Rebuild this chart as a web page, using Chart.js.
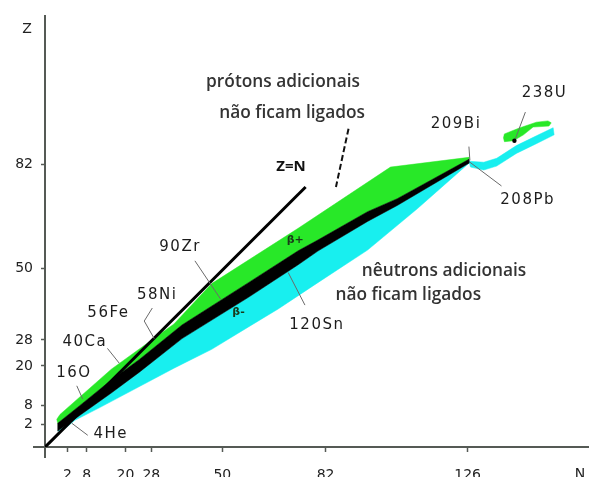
<!DOCTYPE html>
<html>
<head>
<meta charset="utf-8">
<script src="https://cdn.jsdelivr.net/npm/chart.js@4.4.1/dist/chart.umd.min.js"></script>
<style>
  html, body { margin: 0; padding: 0; background: #ffffff; }
  canvas { display: block; }
</style>
</head>
<body>
<canvas id="chart" width="592" height="477"></canvas>
<script>
// Magic numbers shown on the axes
const nTicks = [2, 8, 20, 28, 50, 82, 126];
const zTicks = [2, 8, 20, 28, 50, 82];

// Band of stable nuclei (black): upper and lower edge at each N station
const stableN       = [-1.0, 5.8, 15.6, 24.3, 37.5, 58.1, 73.5, 79.6, 95.0, 104.2, 126.4];
const stableTopZ    = [ 2.4, 7.8, 15.7, 22.0, 32.6, 45.6, 55.4, 58.7, 67.4,  71.4,  83.5];
const stableBottomZ = [ 0.0, 4.8, 11.7, 18.1, 28.4, 41.1, 51.1, 55.3, 64.4,  69.3,  82.3];

// Proton drip line (upper edge of the beta+ region)
const protonEdgeN = [-1.3, -0.3, 15.6, 35.0, 46.7, 73.5, 102.1, 126.4];
const protonEdgeZ = [ 3.6,  5.1, 19.0, 32.9, 45.3, 62.3,  81.1,  84.1];

// Neutron drip line (lower edge of the beta- region)
const neutronEdgeN = [0.3, 4.3, 12.0, 35.0, 46.7, 58.1, 67.3, 79.6, 95.0, 110.4, 126.4];
const neutronEdgeZ = [0.0, 3.3,  7.2, 19.3, 25.1, 32.0, 37.5, 45.6, 55.6,  68.3,  82.3];

// Heavy neutron-rich strip beyond 208Pb (closed outline)
const heavyTailN = [126.4, 131.0, 135.0, 141.1, 147.3, 152.5, 152.8, 147.3, 141.1, 135.0, 131.0, 126.9];
const heavyTailZ = [ 82.9,  82.6,  83.8,  87.7,  90.7,  93.2,  91.0,  88.3,  85.3,  81.4,  80.2,  81.1];

// Island around 238U (closed outline)
const uraniumN = [137.1, 137.4, 142.0, 147.3, 150.9, 151.9, 151.2, 146.3, 143.3, 140.2, 137.4];
const uraniumZ = [ 90.1,  91.3,  93.1,  94.9,  95.3,  94.7,  93.7,  93.4,  91.0,  89.2,  88.9];

// Reference lines
const equalLineN = [-4.9, 75.8];
const equalLineZ = [-4.9, 75.0];
const protonPointerN = [89.1, 85.2];
const protonPointerZ = [92.9, 75.0];

// 238U marker
const uraniumDotN = [140.5];
const uraniumDotZ = [89.2];

// Pointer lines from the isotope names to the bands
const pointers = [
  { n: [3.35, 8.3],         z: [2.4, -1.3] },        // 4He
  { n: [4.9, 6.7],          z: [13.9, 9.9] },        // 16O
  { n: [14.4, 18.1],        z: [25.4, 20.8] },       // 40Ca
  { n: [28.3, 25.8, 28.9],  z: [37.8, 33.8, 28.4] }, // 58Ni
  { n: [41.5, 49.5],        z: [52.3, 40.5] },       // 90Zr
  { n: [70.4, 75.6],        z: [48.7, 38.7] },       // 120Sn
  { n: [126.4, 126.7],      z: [87.4, 83.2] },       // 209Bi
  { n: [126.7, 136.5],      z: [82.6, 75.3] },       // 208Pb
  { n: [143.9, 140.8],      z: [98.0, 89.8] }        // 238U
];

// Text placed in data coordinates
const notes = [
  { text: '4He',   n: 15.4,  z: -1.0,  kind: 'iso' },
  { text: '16O',   n: 4.0,   z: 17.8,  kind: 'iso' },
  { text: '40Ca',  n: 7.4,   z: 27.2,  kind: 'iso' },
  { text: '56Fe',  n: 14.7,  z: 36.3,  kind: 'iso' },
  { text: '58Ni',  n: 29.8,  z: 41.7,  kind: 'iso' },
  { text: '90Zr',  n: 36.9,  z: 56.5,  kind: 'iso' },
  { text: '120Sn', n: 79.3,  z: 32.6,  kind: 'iso' },
  { text: '209Bi', n: 122.4, z: 94.2,  kind: 'iso' },
  { text: '208Pb', n: 144.6, z: 71.1,  kind: 'iso' },
  { text: '238U',  n: 149.8, z: 103.9, kind: 'iso' },
  { text: 'Z=N',   n: 71.3,  z: 81.1,  kind: 'bold' },
  { text: 'β+',    n: 72.6,  z: 58.6,  kind: 'beta' },
  { text: 'β-',    n: 55.0,  z: 36.6,  kind: 'beta' },
  { text: 'prótons adicionais',  n: 68.8,  z: 107.1, kind: 'note' },
  { text: 'não ficam ligados',   n: 71.6,  z: 97.7,  kind: 'note' },
  { text: 'nêutrons adicionais', n: 118.7, z: 49.3,  kind: 'note' },
  { text: 'não ficam ligados',   n: 107.6, z: 41.7,  kind: 'note' }
];

const textStyles = {
  iso:  { font: '15px "DejaVu Sans"', color: '#1c1c1c', spacing: '1.5px' },
  bold: { font: 'bold 15px "Open Sans"', color: '#111111', spacing: '0px' },
  beta: { font: 'bold 11px "DejaVu Sans"', color: '#1a3a1a', spacing: '0px' },
  note: { font: '600 17.3px "Open Sans"', color: '#333333', spacing: '0px' }
};

const GREEN = '#28e828';
const CYAN = '#18efef';
const AXIS = '#555a55';

function pts(nArr, zArr) {
  return nArr.map((n, i) => ({ x: n, y: zArr[i] }));
}
function ring(nA, zA, nB, zB) {
  const fwd = pts(nA, zA);
  const back = pts(nB, zB).reverse();
  const all = fwd.concat(back);
  all.push({ ...all[0] });
  return all;
}
function closed(nArr, zArr) {
  const p = pts(nArr, zArr);
  p.push({ ...p[0] });
  return p;
}
function area(data, color, order) {
  return {
    data, showLine: true, fill: 'shape', backgroundColor: color,
    borderColor: color, borderWidth: 0.5, pointRadius: 0, tension: 0, order
  };
}
function line(data, color, width, order, dash) {
  return {
    data, showLine: true, fill: false, borderColor: color, borderWidth: width,
    borderDash: dash || [], pointRadius: 0, tension: 0, order
  };
}

const datasets = [
  area(ring(stableN, stableBottomZ, neutronEdgeN, neutronEdgeZ), CYAN, 12),
  area(closed(heavyTailN, heavyTailZ), CYAN, 12),
  area(ring(protonEdgeN, protonEdgeZ, stableN, stableTopZ), GREEN, 11),
  area(closed(uraniumN, uraniumZ), GREEN, 11),
  area(ring(stableN, stableTopZ, stableN, stableBottomZ), '#000000', 10),
  line(pts(equalLineN, equalLineZ), '#000000', 3, 5),
  line(pts(protonPointerN, protonPointerZ), '#111111', 2, 5, [6, 3]),
  ...pointers.map(p => line(pts(p.n, p.z), '#6a6a6a', 1, 4)),
  {
    data: pts(uraniumDotN, uraniumDotZ), pointRadius: 2.2, pointBackgroundColor: '#000',
    pointBorderWidth: 0, showLine: false, order: 0
  }
];

const decorations = {
  id: 'decorations',
  afterDraw(chart) {
    const { ctx, scales: { x, y } } = chart;
    ctx.save();
    // axis lines carried a little past the origin
    ctx.strokeStyle = AXIS;
    ctx.lineWidth = 2;
    ctx.beginPath();
    ctx.moveTo(x.left - 12, y.bottom);
    ctx.lineTo(x.left, y.bottom);
    ctx.moveTo(x.left, y.bottom);
    ctx.lineTo(x.left, y.bottom + 11);
    ctx.stroke();

    ctx.textAlign = 'center';
    ctx.textBaseline = 'middle';
    for (const t of notes) {
      const s = textStyles[t.kind];
      ctx.font = s.font;
      ctx.fillStyle = s.color;
      if ('letterSpacing' in ctx) ctx.letterSpacing = s.spacing;
      ctx.fillText(t.text, x.getPixelForValue(t.n), y.getPixelForValue(t.z));
    }
    if ('letterSpacing' in ctx) ctx.letterSpacing = '0px';
    // axis names
    ctx.font = '14px "DejaVu Sans"';
    ctx.fillStyle = '#222222';
    ctx.fillText('Z', x.left - 18, y.top + 13);
    ctx.textBaseline = 'top';
    ctx.fillText('N', x.right - 8, y.bottom + 20);
    ctx.restore();
  }
};

Chart.defaults.font.family = '"DejaVu Sans", sans-serif';

new Chart(document.getElementById('chart'), {
  type: 'scatter',
  data: { datasets },
  options: {
    responsive: false,
    animation: false,
    devicePixelRatio: 1,
    layout: { padding: { top: 10, right: 0, left: 0, bottom: 0 } },
    plugins: { legend: { display: false }, tooltip: { enabled: false } },
    scales: {
      x: {
        type: 'linear', min: -4.95, max: 163.3,
        afterBuildTicks: s => { s.ticks = nTicks.map(v => ({ value: v })); },
        afterFit: s => { s.height = 30; },
        grid: { drawOnChartArea: false, drawTicks: true, tickLength: 5, color: AXIS, tickWidth: 1.5 },
        border: { display: true, color: AXIS, width: 2 },
        ticks: {
          autoSkip: false, maxRotation: 0, padding: 15, color: '#222222',
          font: { size: 14 }, callback: v => String(v)
        }
      },
      y: {
        type: 'linear', min: -4.9, max: 127.4,
        afterBuildTicks: s => { s.ticks = zTicks.map(v => ({ value: v })); },
        afterFit: s => { s.width = 45; },
        grid: { drawOnChartArea: false, drawTicks: true, tickLength: 4, color: AXIS, tickWidth: 1.5 },
        border: { display: true, color: AXIS, width: 2 },
        ticks: {
          autoSkip: false, padding: 8, color: '#222222',
          font: { size: 14 }, callback: v => String(v)
        }
      }
    }
  },
  plugins: [decorations]
});
</script>
</body>
</html>
